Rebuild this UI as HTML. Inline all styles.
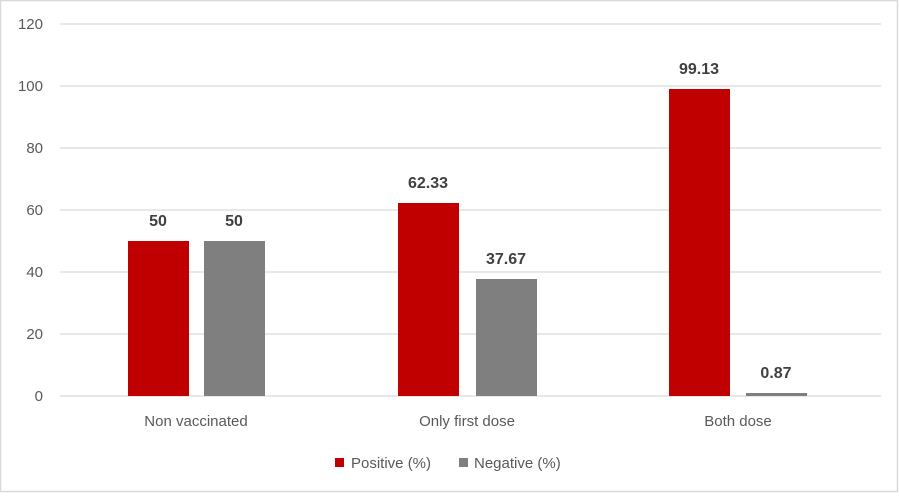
<!DOCTYPE html>
<html><head><style>
body{margin:0;background:#fff}
svg text{font-family:"Liberation Sans",sans-serif}
</style></head><body>
<svg width="899" height="493" xmlns="http://www.w3.org/2000/svg">
<rect x="0.5" y="0.5" width="897" height="491" fill="#fff" stroke="#d9d9d9" stroke-width="1.5"/>
<g stroke="#d9d9d9" stroke-width="1.2">
<line x1="60" x2="881" y1="24" y2="24"/><line x1="60" x2="881" y1="86" y2="86"/>
<line x1="60" x2="881" y1="148" y2="148"/><line x1="60" x2="881" y1="210" y2="210"/>
<line x1="60" x2="881" y1="272" y2="272"/><line x1="60" x2="881" y1="334" y2="334"/>
<line x1="60" x2="881" y1="396" y2="396"/>
</g>
<g font-size="15" fill="#595959" text-anchor="end">
<text x="43" y="29">120</text><text x="43" y="91">100</text><text x="43" y="153">80</text>
<text x="43" y="215">60</text><text x="43" y="277">40</text><text x="43" y="339">20</text><text x="43" y="401">0</text>
</g>
<g fill="#c00000">
<rect x="128" y="241" width="61" height="155"/>
<rect x="398" y="203" width="61" height="193"/>
<rect x="669" y="89" width="61" height="307"/>
</g>
<g fill="#7f7f7f">
<rect x="204" y="241" width="61" height="155"/>
<rect x="476" y="279" width="61" height="117"/>
<rect x="746" y="393" width="61" height="3"/>
</g>
<g font-size="16" font-weight="bold" fill="#404040" text-anchor="middle">
<text x="158" y="226">50</text><text x="234" y="226">50</text>
<text x="428" y="188">62.33</text><text x="506" y="264">37.67</text>
<text x="699" y="74">99.13</text><text x="776" y="378">0.87</text>
</g>
<g font-size="15" fill="#595959" text-anchor="middle">
<text x="196" y="426">Non vaccinated</text>
<text x="467" y="426">Only first dose</text>
<text x="738" y="426">Both dose</text>
</g>
<rect x="335" y="458" width="9" height="9" fill="#c00000"/>
<text x="351" y="468" font-size="15" fill="#595959">Positive (%)</text>
<rect x="459" y="458" width="9" height="9" fill="#7f7f7f"/>
<text x="474" y="468" font-size="15" fill="#595959">Negative (%)</text>
</svg>
</body></html>
